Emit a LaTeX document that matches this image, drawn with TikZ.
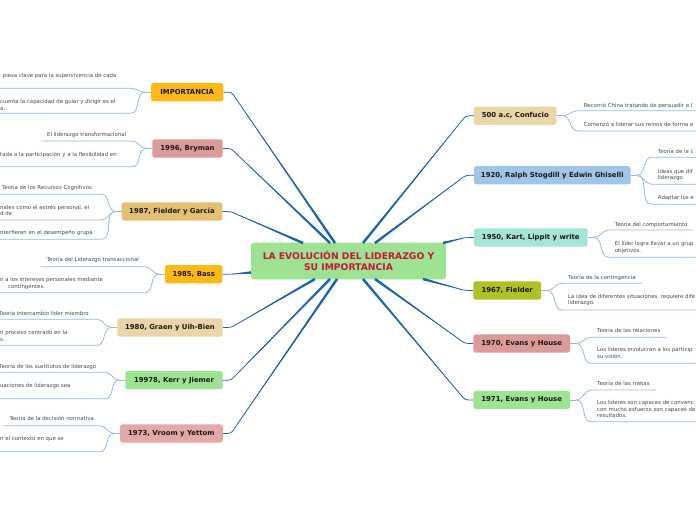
\documentclass[tikz,border=0pt]{standalone}
\usepackage{fontspec}
\setmainfont{DejaVu Sans}
\usetikzlibrary{calc}
\definecolor{mainblue}{RGB}{27,100,178}
\definecolor{subblue}{RGB}{150,185,228}
\definecolor{subgray}{RGB}{75,75,75}
\definecolor{titlered}{RGB}{200,20,58}
\definecolor{cgreen}{RGB}{157,227,147}
\definecolor{ctan}{RGB}{233,213,166}
\definecolor{cblue}{RGB}{159,197,232}
\definecolor{caqua}{RGB}{163,228,215}
\definecolor{colive}{RGB}{176,193,36}
\definecolor{cpink}{RGB}{220,154,154}
\definecolor{cpinkb}{RGB}{228,168,168}
\definecolor{camber}{RGB}{255,185,20}
\definecolor{cgold}{RGB}{228,193,112}
\tikzset{
  topic/.style={rounded corners=2.5pt, minimum height=18.3pt, inner sep=0pt,
    font=\fontsize{6.9}{8}\selectfont\bfseries, text=black!90},
  ctrbox/.style={rounded corners=3pt, fill=cgreen, minimum width=195pt, minimum height=36.6pt,
    inner sep=0pt, align=center, font=\fontsize{9.2}{11}\selectfont\bfseries, text=titlered},
  sub/.style={font=\fontsize{5.4}{6.5}\selectfont, text=subgray, inner xsep=6pt, inner ysep=0pt, align=left},
  subline/.style={draw=subblue, line width=0.8pt},
  mainline/.style={draw=mainblue, line width=0.7pt},
}
% main connector: start anchor, bend coordinate, end coordinate
\newcommand\mlink[3]{%
  \draw[mainline, rounded corners=3pt] (#1) -- (#2) -- (#3);
  \fill[mainblue] (#2) -- ($(#3)!1.3pt!90:(#2)$) -- ($(#3)!1.3pt!-90:(#2)$) -- cycle;}
% right sub-topic: name, parent, underline start (x,y), last baseline y, text
\newcommand\rsub[5]{%
  \coordinate (#1u) at (#3);
  \node[sub, anchor=base west] (#1) at (#1u |- 0,#4) {#5};
  \draw[subline] (#2-b) to[out=0,in=180] (#1u) -- (#1u -| #1.east);}
% left sub-topic, complete text
\newcommand\lsub[5]{%
  \coordinate (#1u) at (#3);
  \node[sub, anchor=base east] (#1) at (#1u |- 0,#4) {#5};
  \draw[subline] (#2-b) to[out=180,in=0] (#1u) -- (#1u -| #1.west);}
% left sub-topic, text cut by the left edge: extra arg = west x
\newcommand\lsubc[6]{%
  \coordinate (#1u) at (#3);
  \node[sub, anchor=base west] (#1) at (#6,#4) {#5};
  \draw[subline] (#2-b) to[out=180,in=0] (#1u) -- (#1u -| #1.west);}

\begin{document}
\begin{tikzpicture}[x=1pt,y=-1pt]
\useasboundingbox (0,0) rectangle (696,520);
\fill[white] (0,0) rectangle (696,520);
\clip (0,0) rectangle (696,520);

% ---------- nodes ----------
\node[ctrbox] (ctr) at (348.5,261) {LA EVOLUCIÓN DEL LIDERAZGO Y\\SU IMPORTANCIA};

\node[topic, fill=camber, minimum width=72.3pt]  (imp)  at (187.2,92.2)  {IMPORTANCIA};
\node[topic, fill=cpink,  minimum width=70.4pt]  (bry)  at (187.5,148.5) {1996, Bryman};
\node[topic, fill=cgold,  minimum width=100.6pt] (fg)   at (172,211.5)   {1987, Fielder y García};
\node[topic, fill=camber, minimum width=57.3pt]  (bass) at (193.7,274.2) {1985, Bass};
\node[topic, fill=ctan,   minimum width=105.4pt] (gr)   at (170,327.5)   {1980, Graen y Uih-Bien};
\node[topic, fill=cgreen, minimum width=97.4pt]  (ke)   at (174,380.2)   {19978, Kerr y Jiemer};
\node[topic, fill=cpinkb, minimum width=102.7pt] (vr)   at (171.4,433.5) {1973, Vroom y Yettom};

\node[topic, fill=ctan,   minimum width=82.7pt]  (con)  at (515.3,115.8) {500 a.c, Confucio};
\node[topic, fill=cblue,  minimum width=156.7pt] (sto)  at (552.3,175.3) {1920, Ralph Stogdill y Edwin Ghiselli};
\node[topic, fill=caqua,  minimum width=113.7pt] (k50)  at (530.8,237.5) {1950, Kart, Lippit y write};
\node[topic, fill=colive, minimum width=67.7pt]  (f67)  at (507.2,290.5) {1967, Fielder};
\node[topic, fill=cpink,  minimum width=96.7pt]  (e70)  at (521.7,343.5) {1970, Evans y House};
\node[topic, fill=cgreen, minimum width=96.7pt]  (m71)  at (521.7,400)   {1971, Evans y House};

% ---------- main connectors ----------
\foreach \n/\ex/\ey in {imp/335/243, bry/330/243, fg/303/243, bass/251/272.5, gr/315/279, ke/330/279, vr/337/279}{
  \coordinate (\n-m) at ($(\n.east)+(8,0)$);
  \coordinate (\n-c) at (\ex,\ey);
  \mlink{\n.east}{\n-m}{\n-c}
}
\foreach \n/\ex/\ey in {con/363/243, sto/375/243, k50/443/243, f67/423/279, e70/375/279, m71/363/279}{
  \coordinate (\n-m) at ($(\n.west)+(-8,0)$);
  \coordinate (\n-c) at (\ex,\ey);
  \mlink{\n.west}{\n-m}{\n-c}
}

% ---------- branch points ----------
\foreach \n in {con,sto,k50,f67,e70,m71}{
  \coordinate (\n-b) at ($(\n.east)+(6,0)$);
  \draw[subline] (\n.east) -- (\n-b);
}
\foreach \n in {imp,bry,fg,bass,gr,ke,vr}{
  \coordinate (\n-b) at ($(\n.west)+(-6,0)$);
  \draw[subline] (\n.west) -- (\n-b);
}

% ---------- right sub-topics ----------
\rsub{con1}{con}{577.7,110.7}{107.6}{Recorrió China tratando de persuadir a l}
\rsub{con2}{con}{577.7,131}{126.6}{Comenzó a liderar sus reinos de forma e}

\rsub{sto1}{sto}{651.7,157.3}{153.9}{Teoría de la c}
\rsub{sto2}{sto}{651.7,184.3}{179.8}{Ideas que dif\\liderazgo.}
\rsub{sto3}{sto}{651.7,204.3}{199.9}{Adaptar los e}

\rsub{k501}{k50}{608.7,230}{226.6}{Teoría del comportamiento}
\rsub{k502}{k50}{608.7,257.3}{252.1}{El líder logra llevar a un grup\\objetivos.}

\rsub{f671}{f67}{562,283.3}{279.3}{Teoría de la contingencia}
\rsub{f672}{f67}{562,310}{304.8}{La idea de diferentes situaciones, requiere dife\\liderazgo.}

\rsub{e701}{e70}{591,337.3}{332.3}{Teoría de las relaciones}
\rsub{e702}{e70}{591,363.3}{358.1}{Los líderes involucran a los particip\\su visión.}

\rsub{m711}{m71}{591,390}{385.6}{Teoría de las metas}
\rsub{m712}{m71}{591,421.7}{417.6}{Los líderes son capaces de convenc\\con mucho esfuerzo son capaces de\\resultados.}

% ---------- left sub-topics ----------
\lsubc{imp1}{imp}{131,88.3}{77.3}{pieza clave para la supervivencia de cada}{-3.3}
\lsubc{imp2}{imp}{131,113.3}{110.2}{cuenta la capacidad de guiar y dirigir es el\\a.}{-6}

\lsub{bry1}{bry}{132.3,141}{136.6}{El liderazgo transformacional}
\lsubc{bry2}{bry}{132.3,166.7}{156.6}{tada a la participación y a la flexibilidad en}{-6}

\lsubc{fg1}{fg}{101.7,194.3}{189.3}{Teoría de los Recursos Cognitivos}{-4.3}
\lsubc{fg2}{fg}{101.7,220}{215.6}{nales como el estrés personal, el\\d de}{-6}
\lsubc{fg3}{fg}{101.7,239.3}{234.9}{nterfieren en el desempeño grupa}{-6}

\lsub{bass1}{bass}{145,266.7}{261.9}{Teoría del Liderazgo transaccional}
\lsubc{bass2}{bass}{145,292.7}{288.4}{n a los intereses personales mediante\\\hspace*{8pt}contingentes.}{-6}

\lsubc{gr1}{gr}{97.3,319.3}{315.9}{Teoría intercambio líder miembro}{-7}
\lsubc{gr2}{gr}{97.3,345.3}{341.4}{n proceso centrado en la\\s.}{-6}

\lsubc{ke1}{ke}{105.3,372.3}{368.3}{Teoría de los sustitutos de liderazgo}{-7}
\lsubc{ke2}{ke}{105.3,398.7}{387.6}{uaciones de liderazgo sea}{-6}

\lsub{vr1}{vr}{100,425.7}{420.9}{Teoría de la decisión normativa}
\lsubc{vr2}{vr}{100,451.7}{440.6}{n el contexto en que se}{-6}
\end{tikzpicture}
\end{document}
